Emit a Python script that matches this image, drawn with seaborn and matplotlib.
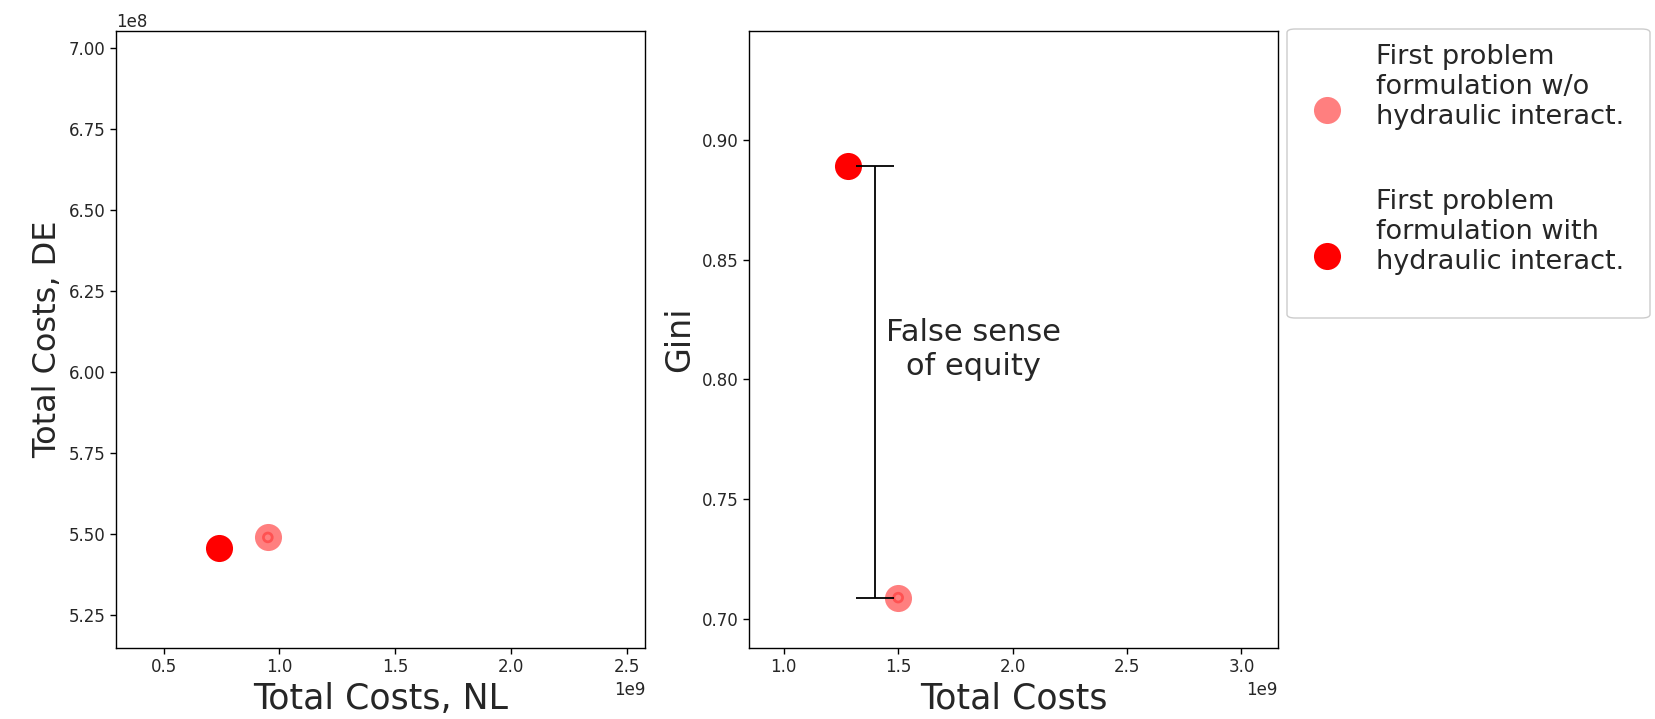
import numpy as np
import pandas as pd
import matplotlib.pyplot as plt
import seaborn as sns
from matplotlib.patches import FancyBboxPatch

sns.set_theme(style="ticks")
plt.rcParams['font.family'] = ['DejaVu Sans']

# Datos
labels = ["First problem\nformulation w/o\nhydraulic interact.",
          "First problem\nformulation with\nhydraulic interact."]
costs_nl = [0.95e9, 0.741e9]
costs_de = [5.49e8, 5.458e8]
total_costs = [1.50e9, 1.281e9]
gini = [0.709, 0.889]
alphas = [0.5, 1.0]

df = pd.DataFrame({"label": labels, "nl": costs_nl, "de": costs_de,
                   "total": total_costs, "gini": gini})

W, H = 1655, 719
fig = plt.figure(figsize=(W / 100, H / 100), dpi=100)
ax1 = fig.add_axes([116 / W, 1 - 648 / H, 529 / W, 617 / H])
ax2 = fig.add_axes([749 / W, 1 - 648 / H, 529 / W, 617 / H])

for i, row in df.iterrows():
    sns.scatterplot(x=[row["nl"]], y=[row["de"]], ax=ax1, color="red",
                    alpha=alphas[i], s=380, linewidth=0)
    sns.scatterplot(x=[row["total"]], y=[row["gini"]], ax=ax2, color="red",
                    alpha=alphas[i], s=380, linewidth=0, label=row["label"])
    if alphas[i] < 1:
        # small darker centre seen on the faded markers
        for ax, xx, yy in [(ax1, row["nl"], row["de"]), (ax2, row["total"], row["gini"])]:
            ax.scatter([xx], [yy], s=40, facecolor="none", edgecolor="red",
                       alpha=0.35, linewidth=2)

# bracket "false sense of equity"
bx = 1.397e9
mid = np.mean(gini)
ax2.errorbar([bx], [mid], yerr=[[mid - min(gini)], [max(gini) - mid]],
             color="black", capsize=14, linewidth=1.3, capthick=1.3)
ax2.text(1.83e9, 0.8125, "False sense\nof equity", ha="center", va="center", fontsize=22)

ax1.set_xlim(0.295e9, 2.577e9)
ax1.set_ylim(5.149e8, 7.052e8)
ax1.set_xticks([0.5e9, 1.0e9, 1.5e9, 2.0e9, 2.5e9])
ax1.set_yticks([5.25e8, 5.5e8, 5.75e8, 6.0e8, 6.25e8, 6.5e8, 6.75e8, 7.0e8])
ax2.set_xlim(0.848e9, 3.16e9)
ax2.set_ylim(0.688, 0.9453)
ax2.set_xticks([1.0e9, 1.5e9, 2.0e9, 2.5e9, 3.0e9])
ax2.set_yticks([0.70, 0.75, 0.80, 0.85, 0.90])

for ax in (ax1, ax2):
    ax.tick_params(labelsize=12, length=4, width=1, color="black")
    ax.xaxis.get_offset_text().set_fontsize(12)
    ax.yaxis.get_offset_text().set_fontsize(12)
    for sp in ax.spines.values():
        sp.set_color("black")
        sp.set_linewidth(1)

ax1.set_xlabel("Total Costs, NL", fontsize=25)
ax1.set_ylabel("Total Costs, DE", fontsize=23)
ax2.set_xlabel("Total Costs", fontsize=25)
ax2.set_ylabel("Gini", fontsize=24)

# legend frame drawn separately (taller bottom padding in the original)
frame = FancyBboxPatch((1287 / W, 1 - 318 / H), 363 / W, 289 / H,
                       boxstyle="round,pad=0,rounding_size=0.005",
                       transform=fig.transFigure, facecolor="white",
                       edgecolor="#cccccc", linewidth=1, zorder=-1)
fig.patches.append(frame)

leg = ax2.legend(loc="upper left", bbox_to_anchor=(1287 / W, 1 - 33 / H),
                 bbox_transform=fig.transFigure, fontsize=19.5,
                 labelspacing=2.2, borderpad=0.4, borderaxespad=0,
                 handlelength=2.15, handletextpad=0.74,
                 scatteryoffsets=[-0.7], frameon=False)

plt.savefig("out.png", dpi=100)
